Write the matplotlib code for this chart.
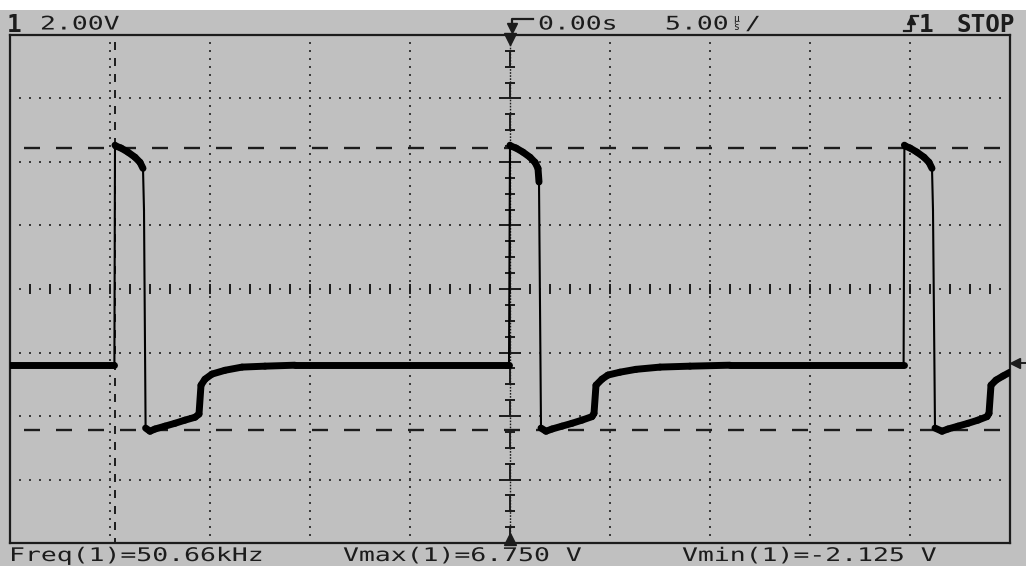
import numpy as np
import matplotlib.pyplot as plt
from matplotlib import patheffects
from matplotlib.collections import LineCollection
from matplotlib.patches import Rectangle
from matplotlib.transforms import Affine2D

# scope settings
volts_per_div = 2.0
us_per_div = 5.0
screen_center_v = 2.32
cursor_t = [-19.74, 0.0]
vmax = 6.75
vmin = -2.125

# channel 1 trace, time in us, volts
trace_t = [-25.0, -19.78, -19.75, -19.70, -19.45, -19.10, -18.75, -18.50, -18.35,
           -18.30, -18.22, -18.00, -17.75, -17.25, -16.75, -16.25, -15.75,
           -15.55, -15.45, -15.25, -14.90, -14.25, -13.40, -12.25, -10.75,
           -0.05, 0.0, 0.05, 0.30, 0.65, 1.00, 1.25, 1.40, 1.45, 1.55, 1.80,
           2.10, 2.60, 3.10, 3.60, 4.10, 4.20, 4.30, 4.60, 4.90, 5.50, 6.30, 7.50,
           9.00, 11.00,
           19.68, 19.72, 19.77, 20.00, 20.35, 20.70, 20.95, 21.10, 21.15,
           21.25, 21.60, 21.90, 22.40, 22.90, 23.40, 23.85, 23.95, 24.05, 24.30,
           24.65, 25.0]
trace_v = [-0.08, -0.08, 6.85, 6.82, 6.76, 6.63, 6.47, 6.31, 6.12,
           4.80, -2.06, -2.16, -2.09, -2.00, -1.91, -1.81, -1.72,
           -1.62, -0.71, -0.52, -0.36, -0.24, -0.14, -0.11, -0.08,
           -0.08, 6.85, 6.82, 6.76, 6.63, 6.47, 6.31, 6.12, 5.69, -2.06, -2.16,
           -2.09, -2.00, -1.91, -1.81, -1.70, -1.60, -0.71, -0.52, -0.39, -0.30, -0.21, -0.14,
           -0.11, -0.08,
           -0.08, 6.85, 6.82, 6.76, 6.63, 6.47, 6.31, 6.12, 4.80,
           -2.06, -2.16, -2.09, -2.00, -1.91, -1.81, -1.70, -1.60, -0.71, -0.55,
           -0.42, -0.30]

scale_text = '2.00V'
delay_text = '0.00s'
timebase_text = '5.00'
run_text = 'STOP'
meas_text = ['Freq(1)=50.66kHz', 'Vmax(1)=6.750 V', 'Vmin(1)=-2.125 V']
meas_x = [9, 343, 682]

W, H = 1026, 572
BG = '#c0c0c0'
INK = '#1c1c1c'
GRID = '#3a3a3a'


def fx(x):
    return x / W


def fy(y):
    return 1 - y / H


class WideText(patheffects.AbstractPathEffect):
    # stretch glyphs sideways, the scope font is much wider than DejaVu
    def __init__(self, sx):
        super().__init__()
        self.sx = sx

    def draw_path(self, renderer, gc, tpath, affine, rgbFace=None):
        renderer.draw_path(gc, tpath, Affine2D().scale(self.sx, 1) + affine, rgbFace)


plt.rcParams['lines.scale_dashes'] = False
fig = plt.figure(figsize=(W / 100, H / 100), dpi=100)
fig.patch.set_facecolor('white')
fig.patches.append(Rectangle((0, fy(566)), 1, (566 - 10) / H, transform=fig.transFigure,
                             facecolor=BG, edgecolor='none', zorder=-5))

ax = fig.add_axes([fx(10), fy(543), 1000 / W, 508 / H])
ax.set_zorder(1)
ax.set_facecolor(BG)
x0, x1 = -5 * us_per_div, 5 * us_per_div
y0, y1 = screen_center_v - 4 * volts_per_div, screen_center_v + 4 * volts_per_div
ax.set_xlim(x0, x1)
ax.set_ylim(y0, y1)
ax.set_xticks([])
ax.set_yticks([])
for s in ax.spines.values():
    s.set_color(INK)
    s.set_linewidth(1.6)

# dotted graticule
dot_t = np.arange(x0 + 0.5, x1, 0.5)
dot_v = np.arange(y0 + 0.25, y1, 0.25)
for k in [-3, -2, -1, 1, 2, 3]:
    ax.plot(dot_t, np.full(len(dot_t), screen_center_v + k * volts_per_div), ls='none',
            marker='s', ms=1.5, mew=0, color=GRID, zorder=1)
for k in [-4, -3, -2, -1, 1, 2, 3, 4]:
    ax.plot(np.full(len(dot_v), k * us_per_div), dot_v, ls='none',
            marker='s', ms=1.5, mew=0, color=GRID, zorder=1)

# center axes with minor ticks
c = screen_center_v
half_t = np.arange(x0 + 0.5, x1, 1.0)
ax.plot(half_t, np.full(len(half_t), c), ls='none', marker='s', ms=1.5, mew=0, color=GRID)
whole_t = np.arange(x0 + 1, x1, 1.0)
ax.vlines(whole_t, c - 0.16, c + 0.16, color=INK, lw=1.4)
ax.plot([0, 0], [y1, y0], color=INK, lw=1.0, ls=(0, (1.2, 1.0)))
tick_v = c + 0.5 * np.arange(-15, 16)
big = (np.arange(-15, 16) % 4) == 0
ax.hlines(tick_v[~big], -0.27, 0.27, color=INK, lw=1.4)
ax.hlines(tick_v[big], -0.55, 0.55, color=INK, lw=1.4)

# cursors
half_div_pt = 63.5 / 4 * 0.72
ax.plot([cursor_t[0]] * 2, [y1, y0], color=INK, lw=1.4,
        ls=(9 * 0.72, (8 * 0.72, 8 * 0.72)), zorder=2)
ax.plot([cursor_t[1]] * 2, [y1, y0], color=INK, lw=1.4,
        ls=(half_div_pt, (half_div_pt, half_div_pt)), zorder=2)
for v in [vmax, vmin]:
    ax.plot([x0, x1], [v, v], color=INK, lw=1.7, ls=(18 * 0.72, (16 * 0.72, 16 * 0.72)), zorder=2)

# trigger position markers
ax.plot([0], [y1 - 4 / 31.75], marker='v', ms=8, color=INK, clip_on=False, zorder=5)
ax.plot([0], [y0 + 4 / 31.75], marker='^', ms=8, color=INK, clip_on=False, zorder=5)

# trace: steep edges are thin, the rest carries a thick noise band
pts = np.column_stack([trace_t, trace_v])
segs = np.stack([pts[:-1], pts[1:]], axis=1)
dy_px = np.abs(np.diff(trace_v)) / volts_per_div * 63.5
widths = np.where(dy_px > 35, 1.5, 5.0)
lc = LineCollection(segs, linewidths=widths, colors='black', capstyle='round',
                    joinstyle='round', zorder=4)
ax.add_collection(lc)

# ground reference arrow at the right edge
fig.add_artist(plt.Line2D([fx(1026), fx(1016)], [fy(363), fy(363)], color=INK, lw=1.4,
                          transform=fig.transFigure))
fig.add_artist(plt.Line2D([fx(1015)], [fy(363)], marker='<', ms=7, color=INK,
                          transform=fig.transFigure))

# header icons
fig.add_artist(plt.Line2D([fx(533), fx(512), fx(512)], [fy(19), fy(19), fy(27)], color=INK,
                          lw=1.6, transform=fig.transFigure))
fig.add_artist(plt.Line2D([fx(512)], [fy(28)], marker='v', ms=7, color=INK,
                          transform=fig.transFigure))
fig.add_artist(plt.Line2D([fx(904), fx(911), fx(911), fx(918)], [fy(31), fy(31), fy(16), fy(16)],
                          color=INK, lw=1.6, transform=fig.transFigure))
fig.add_artist(plt.Line2D([fx(911)], [fy(20)], marker='^', ms=6, color=INK,
                          transform=fig.transFigure))

wide = [WideText(1.41)]
font = dict(family='DejaVu Sans Mono', size=13.5, color=INK, va='baseline', ha='left',
            path_effects=wide)
bold = dict(family='DejaVu Sans Mono', size=17.5, weight='bold', color=INK, va='baseline',
            ha='left')

fig.text(fx(7), fy(32.5), '1', **bold)
fig.text(fx(40), fy(29.5), scale_text, **font)
fig.text(fx(538), fy(29.5), delay_text, **font)
fig.text(fx(665), fy(29.5), timebase_text, **font)
fig.text(fx(733), fy(22), 'µ', family='DejaVu Sans Mono', size=7, color=INK, va='baseline')
fig.text(fx(733), fy(30), 's', family='DejaVu Sans Mono', size=7, color=INK, va='baseline')
fig.text(fx(745), fy(29.5), '/', **font)
fig.text(fx(919), fy(32.5), '1', **bold)
fig.text(fx(956), fy(32.5), run_text, **bold)

for s, x in zip(meas_text, meas_x):
    fig.text(fx(x), fy(561), s, **font)

fig.savefig('out.png', dpi=100, facecolor=fig.get_facecolor())
